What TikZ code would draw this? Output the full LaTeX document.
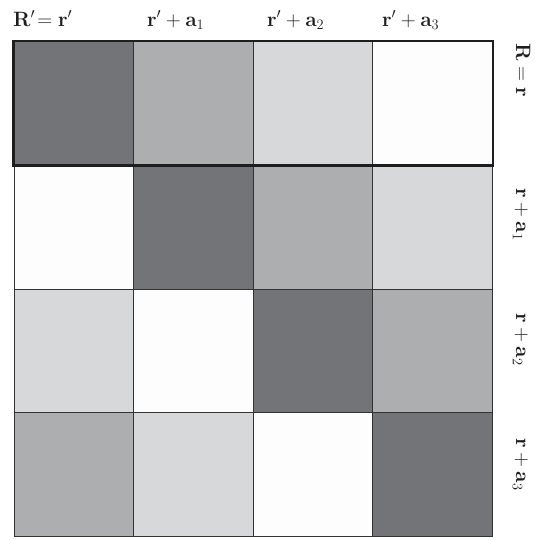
\documentclass[tikz,border=0pt]{standalone}
\usepackage{amsmath,amssymb}
\usepackage{xcolor}
\usepackage{tikz}
\usetikzlibrary{positioning}
\definecolor{grShade0}{HTML}{737478}
\definecolor{grShade1}{HTML}{ADAEAF}
\definecolor{grShade2}{HTML}{D7D8DA}
\definecolor{grShade3}{HTML}{FDFDFD}
\definecolor{grInk}{HTML}{1E1E1E}
\definecolor{grLine}{HTML}{333333}
\tikzset{
  gr diagram/.style={x=1pt, y=-1pt, font=\fontsize{22}{26}\selectfont, text=grInk},
  gr cell/.style={draw=grLine, line width=0.7pt, anchor=north west,
    minimum width=119.6pt, minimum height=123.75pt, inner sep=0pt},
  gr frame/.style={draw=grInk, line width=2.2pt},
  gr top/.style={anchor=base west, inner sep=0pt},
  gr side/.style={anchor=base west, rotate=-90, inner sep=0pt}
}
\begin{document}
\begin{tikzpicture}[gr diagram]
\useasboundingbox (0,0) rectangle (543,539);
% shifted gray pattern, one cell per (row, column)
\foreach \i in {0,...,3}
  \foreach \j in {0,...,3}{
    \pgfmathtruncatemacro\k{mod(\j-\i+4,4)}
    \node[gr cell, fill=grShade\k] (c-\i-\j) at (13.5+119.6*\j, 41+123.75*\i) {};
  }
\draw[gr frame] (c-0-0.north west) rectangle (c-0-3.south east);
% column labels
\node[gr top] (col0) at (13,26) {$\mathbf{R}'\!=\mathbf{r}'$};
\node[gr top] (col1) at (147,26) {$\mathbf{r}'+\mathbf{a}_1$};
\node[gr top] (col2) at (267,26) {$\mathbf{r}'+\mathbf{a}_2$};
\node[gr top] (col3) at (382,26) {$\mathbf{r}'+\mathbf{a}_3$};
% row labels
\node[gr side] (row0) at (516,43) {$\mathbf{R}=\mathbf{r}$};
\node[gr side] (row1) at (516,188) {$\mathbf{r}+\mathbf{a}_1$};
\node[gr side] (row2) at (516,313) {$\mathbf{r}+\mathbf{a}_2$};
\node[gr side] (row3) at (516,438) {$\mathbf{r}+\mathbf{a}_3$};
\end{tikzpicture}
\end{document}
